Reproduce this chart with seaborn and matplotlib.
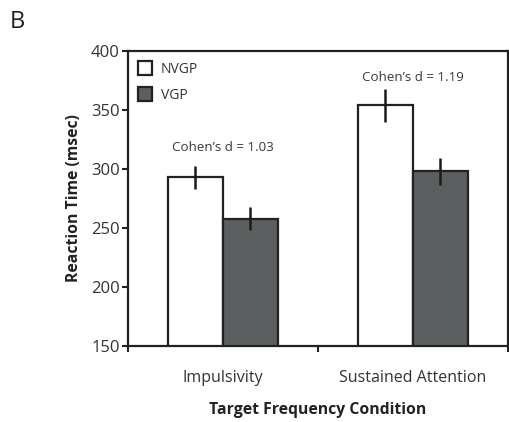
import pandas as pd
import seaborn as sns
import matplotlib.pyplot as plt

sns.set_style("white")
plt.rcParams['font.family'] = ['Open Sans', 'DejaVu Sans']

# data
conditions = ["Impulsivity", "Sustained Attention"]
groups = ["NVGP", "VGP"]
nvgp_rt = [293, 354]
vgp_rt = [258, 298]
nvgp_err = [10, 14]
vgp_err = [10, 11.5]
effect_labels = ["Cohen\u2019s d = 1.03", "Cohen\u2019s d = 1.19"]
effect_y = [318, 378]

df = pd.DataFrame({
    "condition": conditions * 2,
    "group": [groups[0]] * 2 + [groups[1]] * 2,
    "rt": nvgp_rt + vgp_rt,
})
errs = {"NVGP": nvgp_err, "VGP": vgp_err}

fig = plt.figure(figsize=(5.09, 4.22), dpi=100)
ax = fig.add_axes([0.2515, 0.18, 0.746, 0.699])

sns.barplot(data=df, x="condition", y="rt", hue="group", order=conditions,
            hue_order=groups, palette=["white", "#5b605f"], width=0.58,
            edgecolor="#222222", linewidth=1.6, errorbar=None, ax=ax)

# error bars on top of each bar
for cont, g in zip(ax.containers, groups):
    for bar, e in zip(cont, errs[g]):
        xc = bar.get_x() + bar.get_width() / 2
        ax.errorbar(xc, bar.get_height(), yerr=e, fmt="none",
                    ecolor="#1a1a1a", elinewidth=1.8, capsize=0)

for i, (txt, yy) in enumerate(zip(effect_labels, effect_y)):
    ax.text(i, yy, txt, ha="center", va="center", fontsize=9.6, color="#3a3a3a")

ax.set_ylim(150, 400)
ax.set_xlim(-0.5, 1.5)
ax.set_yticks([150, 200, 250, 300, 350, 400])
ax.set_xticks([-0.5, 0.5, 1.5])
ax.set_xticklabels([])
ax.set_xticks([0, 1], minor=True)
ax.set_xticklabels(conditions, minor=True, fontsize=11.5, color="#333333")
ax.tick_params(axis="x", which="major", direction="out", length=4, width=1.5,
               color="#222222", bottom=True)
ax.tick_params(axis="x", which="minor", length=0, pad=17)
ax.tick_params(axis="y", direction="out", length=4, width=1.5, color="#222222",
               left=True, labelsize=12, labelcolor="#333333", pad=2)

for s in ax.spines.values():
    s.set_color("#222222")
    s.set_linewidth(1.6)

ax.set_xlabel("Target Frequency Condition", fontsize=11.3, fontweight="bold",
              color="#222222", labelpad=12)
ax.set_ylabel("Reaction Time (msec)", fontsize=11.3, fontweight="bold",
              color="#222222", labelpad=6)

ax.legend(loc="upper left", frameon=False, fontsize=10, handlelength=1.0,
          handleheight=1.1, handletextpad=0.6, labelspacing=0.75,
          borderaxespad=0.35, labelcolor="#333333")

fig.text(0.02, 0.948, "B", fontsize=17, color="#222222", va="center")

plt.savefig("out.png", dpi=100)
plt.close()
